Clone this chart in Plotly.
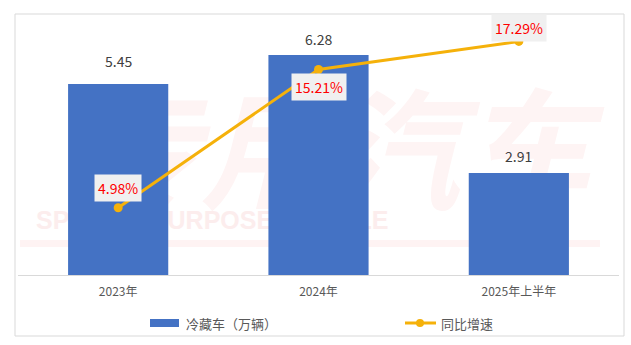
import plotly.graph_objects as go

categories = ["2023年", "2024年", "2025年上半年"]
volumes = [5.45, 6.28, 2.91]          # 冷藏车（万辆）
growth = [4.98, 15.21, 17.29]         # 同比增速 (%)
volume_labels = ["5.45", "6.28", "2.91"]
growth_labels = ["4.98%", "15.21%", "17.29%"]

BAR_COLOR = "#4472C4"
LINE_COLOR = "#F5B10A"
FONT = "Noto Sans CJK SC"

# layout geometry (pixels)
WIDTH, HEIGHT = 631, 345
L, R, T, B = 18, 12, 30, 70
PW, PH = WIDTH - L - R, HEIGHT - T - B


def xp(px):
    return (px - L) / PW


def yp(py):
    return (HEIGHT - B - py) / PH


fig = go.Figure()
fig.add_trace(go.Bar(
    x=categories, y=volumes, name="冷藏车（万辆）",
    marker=dict(color=BAR_COLOR, line=dict(width=0)),
    yaxis="y", hoverinfo="skip",
))
fig.add_trace(go.Scatter(
    x=categories, y=growth, name="同比增速", mode="lines+markers",
    line=dict(color=LINE_COLOR, width=3),
    marker=dict(color=LINE_COLOR, size=9),
    yaxis="y2", hoverinfo="skip",
))

annotations = []
bar_label_shift = [23, 16, 17]
for c, v, t, s in zip(categories, volumes, volume_labels, bar_label_shift):
    annotations.append(dict(
        x=c, y=v, xref="x", yref="y", text=t, showarrow=False,
        yanchor="middle", yshift=s,
        font=dict(family=FONT, size=14, color="#404040"),
    ))
growth_label_shift = [20, -17, 13]
for c, v, t, s in zip(categories, growth, growth_labels, growth_label_shift):
    annotations.append(dict(
        x=c, y=v, xref="x", yref="y2", text=t, showarrow=False,
        yanchor="middle", yshift=s,
        font=dict(family=FONT, size=14, color="#FF0000"),
        bgcolor="#F0F0F0", borderpad=3,
    ))

# legend (drawn manually to match the original icons)
leg_y = 323
annotations.append(dict(
    x=xp(184), y=yp(leg_y), xref="paper", yref="paper", text="冷藏车（万辆）",
    showarrow=False, xanchor="left", yanchor="middle",
    font=dict(family=FONT, size=13, color="#595959"),
))
annotations.append(dict(
    x=xp(439), y=yp(leg_y), xref="paper", yref="paper", text="同比增速",
    showarrow=False, xanchor="left", yanchor="middle",
    font=dict(family=FONT, size=13, color="#595959"),
))

shapes = [
    # watermark (below data)
    dict(type="rect", xref="paper", yref="paper",
         x0=xp(30), x1=xp(430), y0=yp(230), y1=yp(205),
         line=dict(width=0), fillcolor="rgba(0,0,0,0)", layer="below",
         label=dict(text="SPECIAL PURPOSE VEHICLE",
                    font=dict(family="Liberation Sans", size=25, color="#FCEDED", weight="bold"),
                    textposition="middle left")),
    dict(type="rect", xref="paper", yref="paper",
         x0=xp(20), x1=xp(600), y0=yp(247), y1=yp(240),
         line=dict(width=0), fillcolor="#FEF3F3", layer="below"),
    dict(type="rect", xref="paper", yref="paper",
         x0=xp(40), x1=xp(620), y0=yp(235), y1=yp(90),
         line=dict(width=0), fillcolor="rgba(0,0,0,0)", layer="below",
         label=dict(text="专用汽车",
                    font=dict(family=FONT, size=130, color="#FEF4F4", weight="bold", style="italic"),
                    textposition="middle center")),
    # outer frame
    dict(type="rect", xref="paper", yref="paper",
         x0=xp(15), x1=xp(624), y0=yp(336), y1=yp(14),
         line=dict(color="#D9D9D9", width=1), fillcolor="rgba(0,0,0,0)"),
    # legend icons
    dict(type="rect", xref="paper", yref="paper",
         x0=xp(150), x1=xp(179), y0=yp(327), y1=yp(319),
         line=dict(width=0), fillcolor=BAR_COLOR),
    dict(type="line", xref="paper", yref="paper",
         x0=xp(405), x1=xp(436), y0=yp(leg_y), y1=yp(leg_y),
         line=dict(color=LINE_COLOR, width=3)),
    dict(type="circle", xref="paper", yref="paper",
         x0=xp(416), x1=xp(424), y0=yp(leg_y + 4), y1=yp(leg_y - 4),
         line=dict(width=0), fillcolor=LINE_COLOR),
]

fig.update_layout(
    width=WIDTH, height=HEIGHT,
    margin=dict(l=L, r=R, t=T, b=B, pad=0),
    paper_bgcolor="white", plot_bgcolor="rgba(0,0,0,0)",
    showlegend=False,
    bargap=0.5,
    font=dict(family=FONT, color="#595959"),
    xaxis=dict(
        showline=True, linecolor="#D9D9D9", linewidth=1,
        ticks="", showgrid=False, zeroline=False,
        tickfont=dict(family=FONT, size=12, color="#595959"),
        ticklabelstandoff=6,
    ),
    yaxis=dict(range=[0, PH / 35.05], visible=False, showgrid=False, zeroline=False),
    yaxis2=dict(range=[0, PH / 13.51], overlaying="y", side="right",
                visible=False, showgrid=False, zeroline=False),
    annotations=annotations,
    shapes=shapes,
)

fig.write_html("out.html")
